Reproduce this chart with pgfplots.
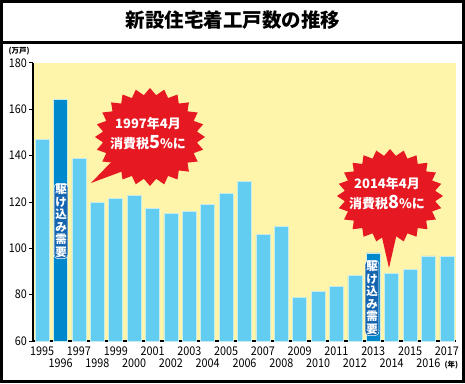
\documentclass[border=0pt]{standalone}
\usepackage{fontspec}
\setmainfont{Noto Sans CJK JP}
\newfontfamily\numfont{Noto Sans CJK JP}[FakeStretch=0.9]
\usepackage{pgfplots}
\pgfplotsset{compat=1.18}
\definecolor{bgyellow}{RGB}{255,245,170}
\definecolor{barlight}{RGB}{98,205,240}
\definecolor{bardark}{RGB}{0,136,204}
\definecolor{baredge}{RGB}{200,236,235}
\definecolor{burst}{RGB}{230,25,35}
\definecolor{badge}{RGB}{20,100,175}
\begin{document}
\begin{tikzpicture}
\useasboundingbox (0pt,0pt) rectangle (465pt,383pt);
\fill[white] (0pt,0pt) rectangle (465pt,383pt);
\begin{axis}[
  at={(33pt,42pt)}, anchor=south west,
  scale only axis, width=423pt, height=278pt,
  xmin=-0.5, xmax=22.5, ymin=60, ymax=180,
  axis x line*=bottom, axis y line*=left,
  axis line style={black, line width=1.2pt, -},
  axis background/.style={fill=bgyellow},
  ytick={60,80,...,180},
  ytick style={black, line width=1pt},
  major tick length=4pt, tick align=outside,
  yticklabel style={font=\numfont\fontsize{12}{13}\selectfont, xshift=1.5pt},
  /pgf/number format/assume math mode=true,
  xtick={0,2,...,22},
  xticklabels={1995,1997,1999,2001,2003,2005,2007,2009,2011,2013,2015,2017},
  xtick style={draw=none},
  xticklabel style={font=\numfont\fontsize{12}{13}\selectfont, yshift=2pt},
  extra x ticks={1,3,...,21},
  extra x tick labels={1996,1998,2000,2002,2004,2006,2008,2010,2012,2014,2016},
  extra x tick style={xtick style={draw=none}, tick label style={yshift=-12pt}},
  clip=false,
]
\addplot[ybar, bar shift=0pt, bar width=14pt, fill=barlight, draw=baredge, line width=0.6pt]
coordinates {(0,147.0)(2,138.7)(3,119.8)(4,121.5)(5,123.0)(6,117.3)(7,115.1)(8,116.0)(9,118.9)(10,123.6)(11,129.0)(12,106.1)(13,109.4)(14,78.8)(15,81.3)(16,83.4)(17,88.3)(19,89.2)(20,90.9)(21,96.7)(22,96.5)};
\addplot[ybar, bar shift=0pt, bar width=14pt, fill=bardark, draw=baredge, line width=0.6pt]
coordinates {(1,164.3)(18,98.0)};
\end{axis}
\begin{scope}[x=1pt, y=1pt]
% frame and title
\draw[black, line width=3pt] (1.5,1.5) rectangle (463.5,381.5);
\draw[black, line width=3pt] (0,340) -- (465,340);
\node[font=\bfseries\fontsize{19.5}{21}\selectfont] at (233,363) {新設住宅着工戸数の推移};
\node[font=\fontsize{7.5}{9}\selectfont\bfseries, anchor=west] at (5,332) {(万戸)};
\node[font=\fontsize{7.5}{9}\selectfont\bfseries, anchor=west] at (441,18) {(年)};
% callout 1
\fill[burst] (91,200) -- (118,228) -- (134,216) -- cycle;
\fill[burst] (205,246) \foreach \i in {1,...,47}{ -- ({150+(1-0.14*mod(\i,2))*55*cos(7.5*\i)}, {246+(1-0.14*mod(\i,2))*49*sin(7.5*\i)})} -- cycle;
\node[white, font=\bfseries\fontsize{13}{20}\selectfont, align=center] at (148,249) {1997年4月\\消費税{\fontsize{18}{18}\selectfont 5}\%に};
% callout 2
\fill[burst] (389,115) -- (381,150) -- (397,150) -- cycle;
\fill[burst] (443,187) \foreach \i in {1,...,47}{ -- ({390+(1-0.14*mod(\i,2))*53*cos(7.5*\i)}, {187+(1-0.14*mod(\i,2))*47*sin(7.5*\i)})} -- cycle;
\node[white, font=\bfseries\fontsize{13}{20}\selectfont, align=center] at (387,189) {2014年4月\\消費税{\fontsize{18}{18}\selectfont 8}\%に};
% badges
\node[fill=badge, draw=white, line width=0.5pt, rounded corners=4pt, inner sep=1.2pt, text=white, font=\bfseries\fontsize{11.5}{12.5}\selectfont, align=center] at (61,162) {駆\\け\\込\\み\\需\\要};
\node[fill=badge, draw=white, line width=0.5pt, rounded corners=4pt, inner sep=1.2pt, text=white, font=\bfseries\fontsize{11.5}{12.5}\selectfont, align=center] at (372,85) {駆\\け\\込\\み\\需\\要};
\end{scope}
\end{tikzpicture}
\end{document}
